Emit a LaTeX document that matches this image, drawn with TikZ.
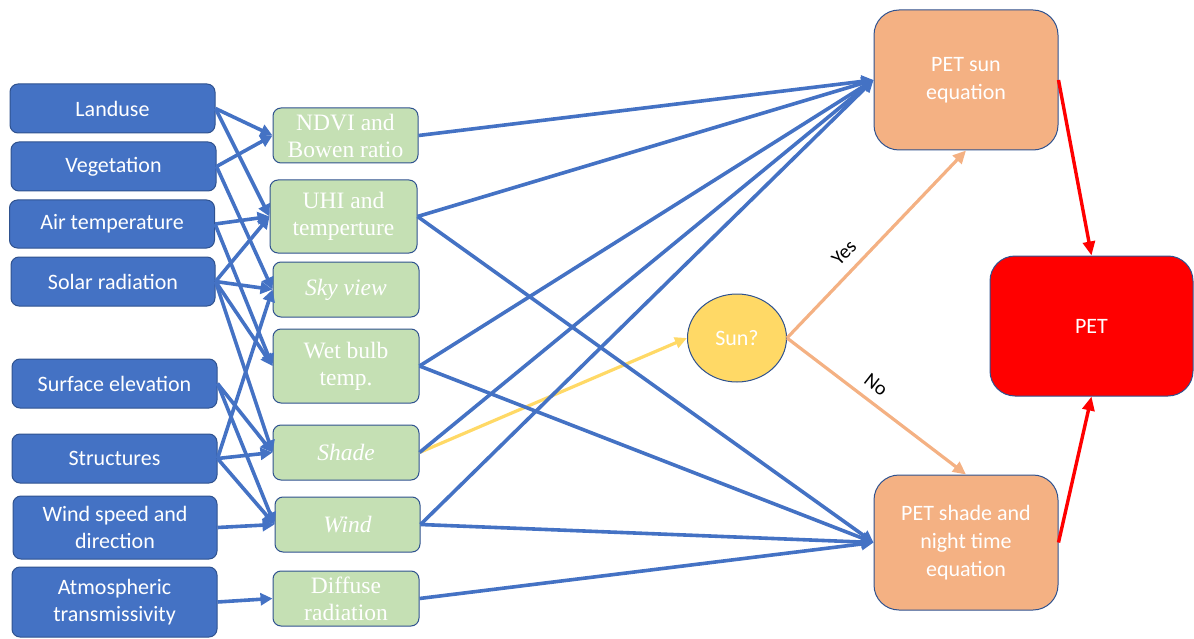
\documentclass[tikz,border=0pt]{standalone}
\usepackage{fontspec}
\setmainfont{Carlito}
\newfontfamily\greenfont{Liberation Serif}
\usetikzlibrary{arrows.meta,shapes.geometric}
\definecolor{bfill}{HTML}{4472C4}
\definecolor{bedge}{HTML}{2F528F}
\definecolor{gfill}{HTML}{C5E0B4}
\definecolor{ofill}{HTML}{F4B183}
\definecolor{yfill}{HTML}{FFD966}
\definecolor{rfill}{HTML}{FF0000}
\tikzset{
  inbox/.style={draw=bedge, line width=1pt, fill=bfill, rounded corners=8pt, text=white,
    align=center, inner sep=0pt, font=\fontsize{22}{27}\selectfont},
  midbox/.style={draw=bedge, line width=1pt, fill=gfill, rounded corners=8pt, text=white,
    align=center, inner sep=0pt, font=\greenfont\fontsize{23.5}{27}\selectfont},
  eqbox/.style={draw=bedge, line width=1pt, fill=ofill, rounded corners=25pt, text=white,
    align=center, inner sep=0pt, minimum width=184pt, font=\fontsize{22}{28}\selectfont},
  petbox/.style={draw=bedge, line width=1pt, fill=rfill, rounded corners=25pt, text=white,
    align=center, inner sep=0pt, font=\fontsize{22}{27}\selectfont},
  sunnode/.style={draw=bedge, line width=1pt, fill=yfill, ellipse, text=white, inner sep=0pt,
    font=\fontsize{22}{27}\selectfont},
  barrow/.style={draw=bfill, line width=3.6pt, -{Triangle[length=12pt,width=12pt]}},
  oarrow/.style={draw=ofill, line width=3.2pt, -{Triangle[length=13pt,width=12pt]}},
  yarrow/.style={draw=yfill, line width=3.2pt, -{Triangle[length=12pt,width=11pt]}},
  rarrow/.style={draw=rfill, line width=3.4pt, -{Triangle[length=14pt,width=12pt]}},
  lbl/.style={text=black, inner sep=0pt, font=\fontsize{20}{24}\selectfont}
}
\begin{document}
\begin{tikzpicture}[x=1pt,y=-1pt]
\useasboundingbox (0,0) rectangle (1194,639);
% input boxes
\node[inbox, minimum width=205pt, minimum height=49pt] (landuse) at (112.5,108.5) {Landuse};
\node[inbox, minimum width=205pt, minimum height=49pt] (veg) at (113.5,166.5) {Vegetation};
\node[inbox, minimum width=205pt, minimum height=48pt] (air) at (112,224) {Air temperature};
\node[inbox, minimum width=204pt, minimum height=49pt] (solar) at (113,281.5) {Solar radiation};
\node[inbox, minimum width=205pt, minimum height=49pt] (surf) at (114.5,383.5) {Surface elevation};
\node[inbox, minimum width=205pt, minimum height=49pt] (struct) at (114.5,458.5) {Structures};
\node[inbox, minimum width=204pt, minimum height=63pt] (windspd) at (115,527.5) {Wind speed and\\direction};
\node[inbox, minimum width=205pt, minimum height=70pt] (atm) at (114.5,602) {Atmospheric\\transmissivity};
% intermediate boxes
\node[midbox, minimum width=145pt, minimum height=55pt] (ndvi) at (345.5,135.5) {NDVI and\\Bowen ratio};
\node[midbox, minimum width=147pt, minimum height=73pt] (uhi) at (343.5,216.5) {UHI and\\temperture};
\node[midbox, minimum width=146pt, minimum height=55pt] (sky) at (346,289.5) {\itshape Sky view};
\node[midbox, minimum width=146pt, minimum height=74pt] (wet) at (346,366) {Wet bulb\\temp.};
\node[midbox, minimum width=146pt, minimum height=55pt] (shade) at (346,452.5) {\itshape Shade};
\node[midbox, minimum width=145pt, minimum height=55pt] (wind) at (347.5,524.5) {\itshape Wind};
\node[midbox, minimum width=146pt, minimum height=55pt] (diffuse) at (346,598.5) {Diffuse\\radiation};
% right side
\node[eqbox, minimum height=140pt] (petsun) at (966,80) {PET sun\\equation};
\node[eqbox, minimum height=135pt] (petshade) at (966,542.5) {PET shade and\\night time\\equation};
\node[petbox, minimum width=203pt, minimum height=140pt] (pet) at (1091.5,326) {PET};
\node[sunnode, minimum width=99pt, minimum height=88pt] (sun) at (737,338) {Sun?};
% yellow
\draw[yarrow] (shade.east) -- (sun.west);
% inputs to intermediates
\draw[barrow] (landuse.east) -- (ndvi.west);
\draw[barrow] (landuse.east) -- (uhi.west);
\draw[barrow] (veg.east) -- (ndvi.west);
\draw[barrow] (veg.east) -- (sky.west);
\draw[barrow] (air.east) -- (uhi.west);
\draw[barrow] (air.east) -- (wet.west);
\draw[barrow] (solar.east) -- (uhi.west);
\draw[barrow] (solar.east) -- (sky.west);
\draw[barrow] (solar.east) -- (wet.west);
\draw[barrow] (solar.east) -- (shade.west);
\draw[barrow] (surf.east) -- (shade.west);
\draw[barrow] (surf.east) -- (wind.west);
\draw[barrow] (struct.east) -- (sky.west);
\draw[barrow] (struct.east) -- (shade.west);
\draw[barrow] (struct.east) -- (wind.west);
\draw[barrow] (windspd.east) -- (wind.west);
\draw[barrow] (atm.east) -- (diffuse.west);
% intermediates to equations
\draw[barrow] (ndvi.east) -- (petsun.west);
\draw[barrow] (uhi.east) -- (petsun.west);
\draw[barrow] (wet.east) -- (petsun.west);
\draw[barrow] (shade.east) -- (petsun.west);
\draw[barrow] (wind.east) -- (petsun.west);
\draw[barrow] (uhi.east) -- (petshade.west);
\draw[barrow] (wet.east) -- (petshade.west);
\draw[barrow] (wind.east) -- (petshade.west);
\draw[barrow] (diffuse.east) -- (petshade.west);
% decision
\draw[oarrow] (sun.east) -- (petsun.south);
\draw[oarrow] (sun.east) -- (petshade.north);
\node[lbl, rotate=45] (yes) at (844,253) {Yes};
\node[lbl, rotate=-38] (no) at (876,385) {No};
% to PET
\draw[rarrow] (petsun.east) -- (pet.north);
\draw[rarrow] (petshade.east) -- (pet.south);
\end{tikzpicture}
\end{document}
